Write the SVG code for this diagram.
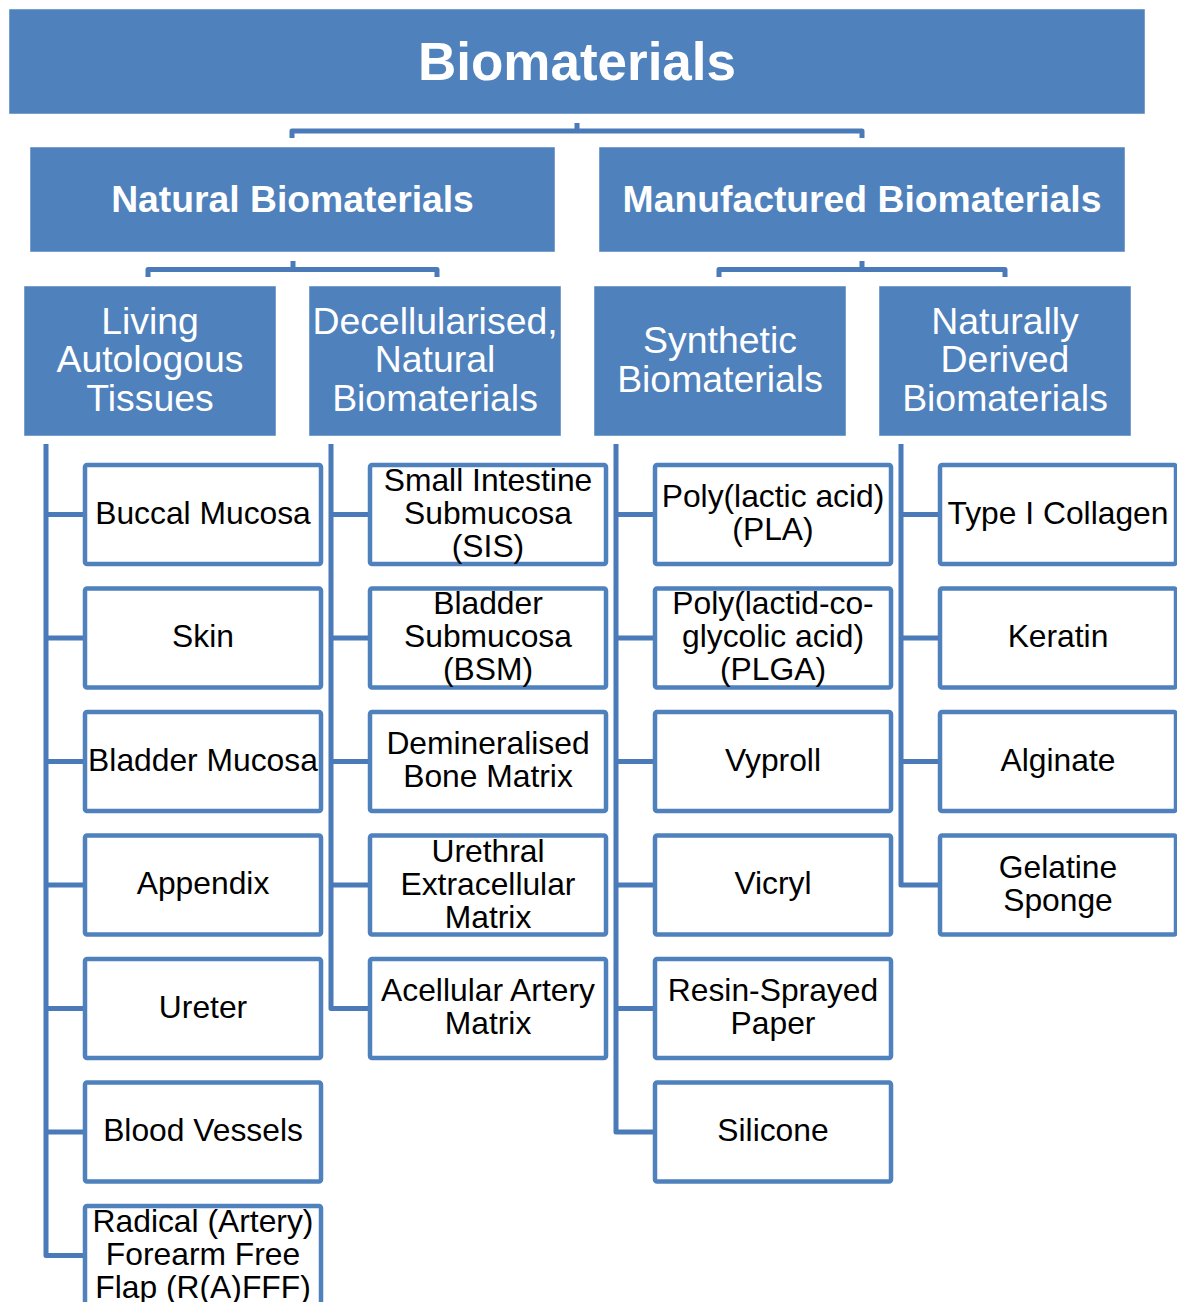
<svg xmlns="http://www.w3.org/2000/svg" width="1177" height="1302" viewBox="0 0 1177 1302">
<style>
.hdr{fill:#4F81BD;stroke:#ffffff;stroke-width:0.8;stroke-opacity:0.6}
.box{fill:#ffffff;stroke:#4F81BD;stroke-width:4.5}
.conn{fill:none;stroke:#4A7AB7;stroke-width:5;stroke-linejoin:round}
.tb{font-family:"Liberation Sans",Arial,sans-serif;font-weight:bold;fill:#ffffff;text-anchor:middle}
.th{font-family:"Liberation Sans",Arial,sans-serif;fill:#ffffff;text-anchor:middle;font-size:37.4px}
.tc{font-family:"Liberation Sans",Arial,sans-serif;fill:#000000;text-anchor:middle;font-size:31.8px}
</style>
<rect width="1177" height="1302" fill="#ffffff"/>
<g id="connectors">
<path class="conn" d="M577,123 V131 M292,138 V131 H862 V138"/>
<path class="conn" d="M293,261 V269.5 M148,277 V269.5 H437 V277"/>
<path class="conn" d="M862,261 V269.5 M719,277 V269.5 H1005 V277"/>
<path class="conn" d="M46,444 V1255.5 H85 M46,514.5 H85 M46,638 H85 M46,761.5 H85 M46,885 H85 M46,1008.5 H85 M46,1132 H85"/>
<path class="conn" d="M331,444 V1008.5 H370 M331,514.5 H370 M331,638 H370 M331,761.5 H370 M331,885 H370"/>
<path class="conn" d="M616,444 V1132 H655 M616,514.5 H655 M616,638 H655 M616,761.5 H655 M616,885 H655 M616,1008.5 H655"/>
<path class="conn" d="M901,444 V885 H940 M901,514.5 H940 M901,638 H940 M901,761.5 H940"/>
</g>
<g id="root"><rect class="hdr" x="9" y="9" width="1136" height="105"/><text class="tb" x="577" y="79.5" font-size="53">Biomaterials</text></g>
<g id="natural"><rect class="hdr" x="30" y="147" width="525" height="105"/><text class="tb" x="292.5" y="211.5" font-size="37.3">Natural Biomaterials</text></g>
<g id="manufactured"><rect class="hdr" x="599" y="147" width="526" height="105"/><text class="tb" x="862" y="211.5" font-size="37.3">Manufactured Biomaterials</text></g>
<g id="living"><rect class="hdr" x="24" y="286" width="252" height="150"/><text class="th" x="150" y="333.5">Living</text><text class="th" x="150" y="372">Autologous</text><text class="th" x="150" y="410.5">Tissues</text></g>
<g id="decell"><rect class="hdr" x="309" y="286" width="252" height="150"/><text class="th" x="435" y="333.5">Decellularised,</text><text class="th" x="435" y="372">Natural</text><text class="th" x="435" y="410.5">Biomaterials</text></g>
<g id="synthetic"><rect class="hdr" x="594" y="286" width="252" height="150"/><text class="th" x="720" y="352.5">Synthetic</text><text class="th" x="720" y="391.5">Biomaterials</text></g>
<g id="natderived"><rect class="hdr" x="879" y="286" width="252" height="150"/><text class="th" x="1005" y="333.5">Naturally</text><text class="th" x="1005" y="372">Derived</text><text class="th" x="1005" y="410.5">Biomaterials</text></g>

<g id="buccal"><rect class="box" x="85" y="465" width="236" height="99" rx="2"/><text class="tc" x="203" y="523.5">Buccal Mucosa</text></g>
<g id="skin"><rect class="box" x="85" y="588.5" width="236" height="99" rx="2"/><text class="tc" x="203" y="647">Skin</text></g>
<g id="bladdermucosa"><rect class="box" x="85" y="712" width="236" height="99" rx="2"/><text class="tc" x="203" y="770.5">Bladder Mucosa</text></g>
<g id="appendix"><rect class="box" x="85" y="835.5" width="236" height="99" rx="2"/><text class="tc" x="203" y="894">Appendix</text></g>
<g id="ureter"><rect class="box" x="85" y="959" width="236" height="99" rx="2"/><text class="tc" x="203" y="1017.5">Ureter</text></g>
<g id="bloodvessels"><rect class="box" x="85" y="1082.5" width="236" height="99" rx="2"/><text class="tc" x="203" y="1141">Blood Vessels</text></g>
<g id="raffff"><rect class="box" x="85" y="1206" width="236" height="99" rx="2"/><text class="tc" x="203" y="1231.5">Radical (Artery)</text><text class="tc" x="203" y="1264.5">Forearm Free</text><text class="tc" x="203" y="1297.5">Flap (R(A)FFF)</text></g>

<g id="sis"><rect class="box" x="370" y="465" width="236" height="99" rx="2"/><text class="tc" x="488" y="490.5">Small Intestine</text><text class="tc" x="488" y="523.5">Submucosa</text><text class="tc" x="488" y="556.5">(SIS)</text></g>
<g id="bsm"><rect class="box" x="370" y="588.5" width="236" height="99" rx="2"/><text class="tc" x="488" y="614">Bladder</text><text class="tc" x="488" y="647">Submucosa</text><text class="tc" x="488" y="680">(BSM)</text></g>
<g id="dbm"><rect class="box" x="370" y="712" width="236" height="99" rx="2"/><text class="tc" x="488" y="754">Demineralised</text><text class="tc" x="488" y="787">Bone Matrix</text></g>
<g id="uecm"><rect class="box" x="370" y="835.5" width="236" height="99" rx="2"/><text class="tc" x="488" y="861.5">Urethral</text><text class="tc" x="488" y="894.5">Extracellular</text><text class="tc" x="488" y="927.5">Matrix</text></g>
<g id="aam"><rect class="box" x="370" y="959" width="236" height="99" rx="2"/><text class="tc" x="488" y="1001">Acellular Artery</text><text class="tc" x="488" y="1034">Matrix</text></g>

<g id="pla"><rect class="box" x="655" y="465" width="236" height="99" rx="2"/><text class="tc" x="773" y="507">Poly(lactic acid)</text><text class="tc" x="773" y="540">(PLA)</text></g>
<g id="plga"><rect class="box" x="655" y="588.5" width="236" height="99" rx="2"/><text class="tc" x="773" y="614">Poly(lactid-co-</text><text class="tc" x="773" y="647">glycolic acid)</text><text class="tc" x="773" y="680">(PLGA)</text></g>
<g id="vyproll"><rect class="box" x="655" y="712" width="236" height="99" rx="2"/><text class="tc" x="773" y="770.5">Vyproll</text></g>
<g id="vicryl"><rect class="box" x="655" y="835.5" width="236" height="99" rx="2"/><text class="tc" x="773" y="894">Vicryl</text></g>
<g id="resin"><rect class="box" x="655" y="959" width="236" height="99" rx="2"/><text class="tc" x="773" y="1001">Resin-Sprayed</text><text class="tc" x="773" y="1034">Paper</text></g>
<g id="silicone"><rect class="box" x="655" y="1082.5" width="236" height="99" rx="2"/><text class="tc" x="773" y="1141">Silicone</text></g>

<g id="collagen"><rect class="box" x="940" y="465" width="236" height="99" rx="2"/><text class="tc" x="1058" y="523.5">Type I Collagen</text></g>
<g id="keratin"><rect class="box" x="940" y="588.5" width="236" height="99" rx="2"/><text class="tc" x="1058" y="647">Keratin</text></g>
<g id="alginate"><rect class="box" x="940" y="712" width="236" height="99" rx="2"/><text class="tc" x="1058" y="770.5">Alginate</text></g>
<g id="gelatine"><rect class="box" x="940" y="835.5" width="236" height="99" rx="2"/><text class="tc" x="1058" y="877.5">Gelatine</text><text class="tc" x="1058" y="910.5">Sponge</text></g>
</svg>
